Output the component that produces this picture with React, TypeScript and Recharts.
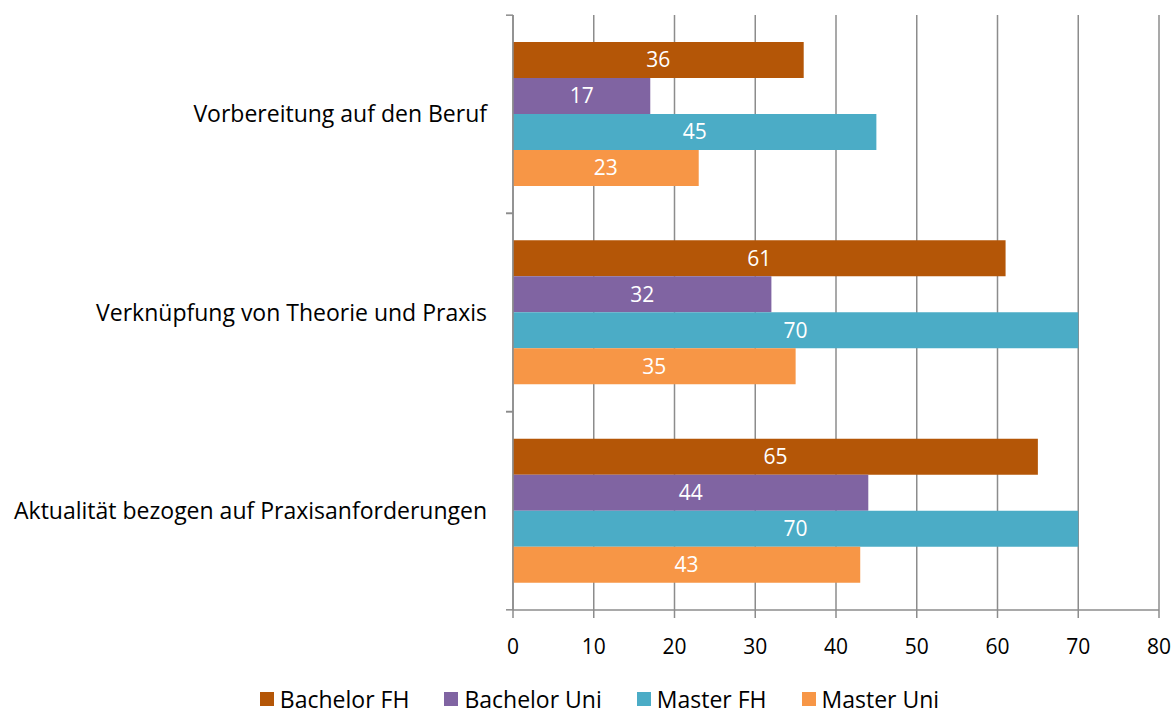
import React from 'react';
import { BarChart, Bar, XAxis, YAxis, CartesianGrid, Legend, LabelList } from 'recharts';

const categories = [
  "Vorbereitung auf den Beruf",
  "Verknüpfung von Theorie und Praxis",
  "Aktualität bezogen auf Praxisanforderungen"
];
const bachelorFH = [36, 61, 65];
const bachelorUni = [17, 32, 44];
const masterFH = [45, 70, 70];
const masterUni = [23, 35, 43];
const xTicks = [0, 10, 20, 30, 40, 50, 60, 70, 80];

const series = [
  { key: "Bachelor FH", color: "#B45607" },
  { key: "Bachelor Uni", color: "#8064A2" },
  { key: "Master FH", color: "#4BACC6" },
  { key: "Master Uni", color: "#F79646" }
];

const data = categories.map((name, i) => ({
  name,
  "Bachelor FH": bachelorFH[i],
  "Bachelor Uni": bachelorUni[i],
  "Master FH": masterFH[i],
  "Master Uni": masterUni[i]
}));

const FONT = "'Open Sans', sans-serif";
const BAND = 198;

// category tick: label at centre, tick marks on band edges like Excel
const CatTick = (props: any) => {
  const { x, y, payload } = props;
  return (
    <g>
      <line x1={x + 19} x2={x + 26} y1={y - BAND / 2} y2={y - BAND / 2} stroke="#8c8c8c" strokeWidth={1.5} />
      <line x1={x + 19} x2={x + 26} y1={y + BAND / 2} y2={y + BAND / 2} stroke="#8c8c8c" strokeWidth={1.5} />
      <text x={x} y={y} dy={8} textAnchor="end" fill="#000" fontSize={23} fontFamily={FONT}>
        {payload.value}
      </text>
    </g>
  );
};

const LegendBox = () => (
  <div style={{ display: 'flex', justifyContent: 'center', height: 30, boxSizing: 'border-box', paddingTop: 2, alignItems: 'center', fontFamily: FONT, fontSize: 23, lineHeight: '24px', paddingLeft: 75 }}>
    {series.map(s => (
      <div key={s.key} style={{ display: 'flex', alignItems: 'center', marginRight: 35 }}>
        <span style={{ width: 14, height: 14, background: s.color, display: 'inline-block', marginRight: 6 }} />
        <span>{s.key}</span>
      </div>
    ))}
  </div>
);

export default function App() {
  return (
    <div style={{ position: 'absolute', left: 0, top: 0, background: '#fff' }}>
      <BarChart
        width={1176}
        height={713}
        data={data}
        layout="vertical"
        barGap={0}
        margin={{ top: 15, right: 17, left: 0, bottom: 0 }}
      >
        <CartesianGrid horizontal={false} stroke="#8c8c8c" strokeWidth={1.5} />
        <XAxis
          type="number"
          domain={[0, 80]}
          ticks={xTicks}
          height={73}
          tickSize={8}
          tickMargin={21}
          stroke="#8c8c8c"
          strokeWidth={1.5}
          tick={{ fill: '#000', fontSize: 21, fontFamily: FONT }}
        />
        <YAxis
          type="category"
          dataKey="name"
          width={513}
          tickLine={false}
          tick={<CatTick />}
          tickMargin={20}
          stroke="#8c8c8c"
          strokeWidth={1.5}
        />
        <Legend verticalAlign="bottom" content={<LegendBox />} />
        {series.map(s => (
          <Bar key={s.key} dataKey={s.key} fill={s.color} barSize={36} isAnimationActive={false}>
            <LabelList dataKey={s.key} position="center" fill="#fff" fontSize={21} fontFamily={FONT} />
          </Bar>
        ))}
      </BarChart>
    </div>
  );
}
